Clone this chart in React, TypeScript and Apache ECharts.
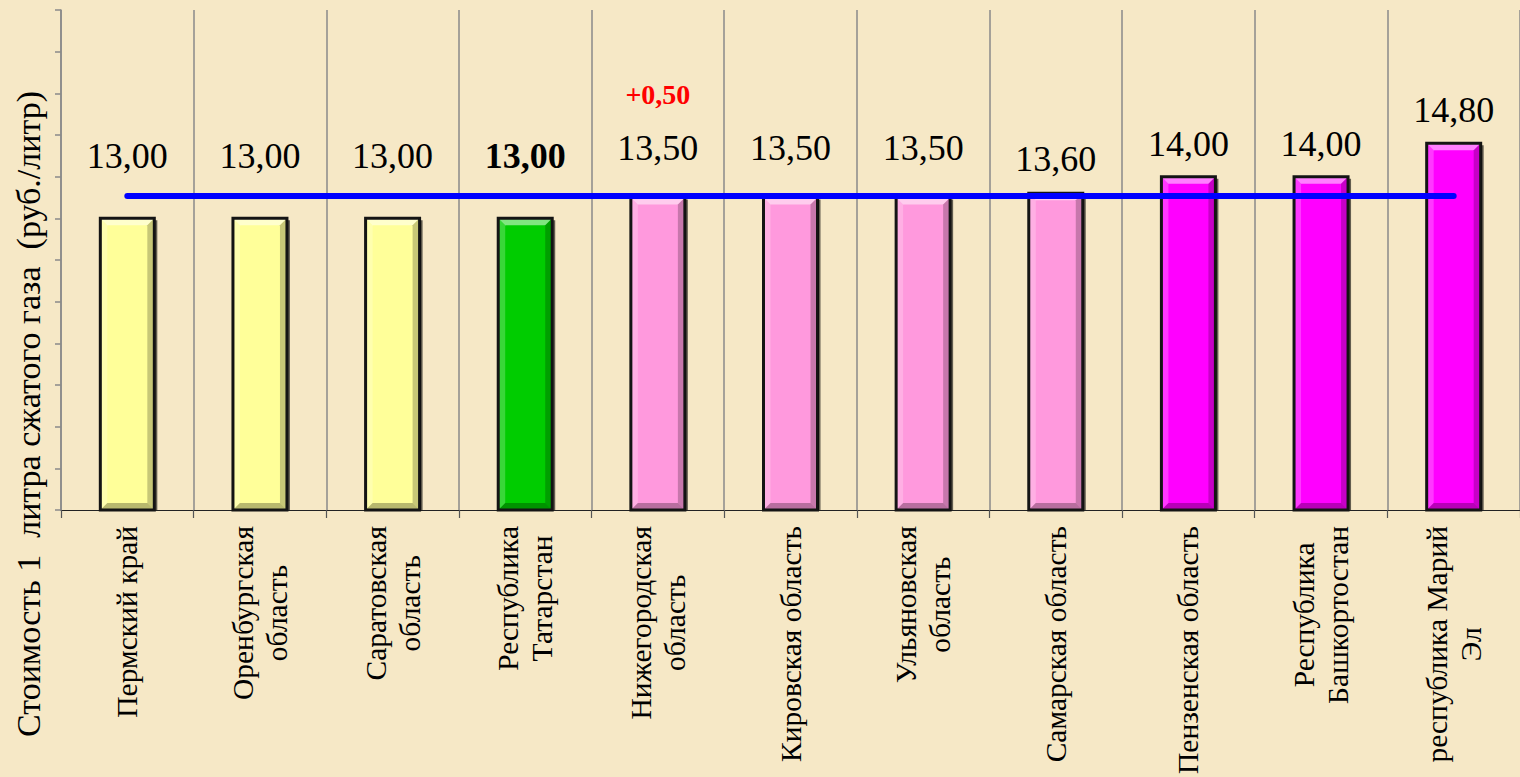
import React, { useEffect, useRef } from "react";
import * as echarts from "echarts";

const categories = [
  "Пермский край",
  "Оренбургская\nобласть",
  "Саратовская\nобласть",
  "Республика\nТатарстан",
  "Нижегородская\nобласть",
  "Кировская область",
  "Ульяновская\nобласть",
  "Самарская область",
  "Пензенская область",
  "Республика\nБашкортостан",
  "республика Марий\nЭл",
];
const prices = [13.0, 13.0, 13.0, 13.0, 13.5, 13.5, 13.5, 13.6, 14.0, 14.0, 14.8];
const priceChange = ["", "", "", "", "+0,50", "", "", "", "", "", ""];
const averagePrice = 13.55;
const highlightedIndex = 3;
const yMin = 6;
const yMax = 18;
const yInterval = 1;
const yAxisTitle = "Стоимость 1  литра сжатого газа  (руб./литр)";

// styles
const barColors = [
  "#FFFF99", "#FFFF99", "#FFFF99", "#00CC00",
  "#FF99DD", "#FF99DD", "#FF99DD", "#FF99DD",
  "#FF00FF", "#FF00FF", "#FF00FF",
];
const labelGaps = [42, 42, 42, 42, 29, 29, 29, 14, 13, 13, 13];
const SERIF = "Liberation Serif";
const BAR_W = 54;

const fmt = (v: number) => v.toFixed(2).replace(".", ",");

export default function App() {
  const ref = useRef<HTMLDivElement>(null);
  useEffect(() => {
    if (!ref.current) return;
    const chart = echarts.init(ref.current, undefined, { renderer: "svg" });

    const barData = prices.map((v, i) => ({
      value: v,
      itemStyle: { color: barColors[i] },
      label: { distance: labelGaps[i] },
    }));

    const option: any = {
      animation: false,
      backgroundColor: "#f6e8c6",
      textStyle: { fontFamily: SERIF },
      grid: { left: 61, top: 10, width: 1461, height: 501, containLabel: false },
      xAxis: {
        type: "category",
        data: categories,
        axisLine: { show: true, lineStyle: { color: "#222", width: 1.2 } },
        axisTick: { show: true, length: 8, lineStyle: { color: "#555", width: 1.2 } },
        splitLine: { show: true, lineStyle: { color: "#8a8a8a", width: 1.5 } },
        axisLabel: {
          interval: 0,
          rotate: 90,
          margin: 16,
          color: "#000",
          fontFamily: SERIF,
          fontSize: 29.5,
          formatter: (val: string) =>
            val
              .split("\n")
              .map((s) => "{c|" + s + "}")
              .join("\n"),
          rich: {
            c: { align: "center", fontFamily: SERIF, fontSize: 29.5, lineHeight: 34, color: "#000" },
          },
        },
      },
      yAxis: {
        type: "value",
        min: yMin,
        max: yMax,
        interval: yInterval,
        axisLine: { show: true, lineStyle: { color: "#8a8a8a", width: 1.5 } },
        axisTick: { show: true, length: 6, lineStyle: { color: "#8a8a8a", width: 1.5 } },
        axisLabel: { show: false },
        splitLine: { show: false },
      },
      graphic: [
        {
          type: "text",
          x: 28,
          y: 414,
          rotation: Math.PI / 2,
          style: {
            text: yAxisTitle,
            fontFamily: SERIF,
            fontSize: 34,
            fill: "#000",
            align: "center",
            verticalAlign: "middle",
          },
        },
      ],
      series: [
        {
          type: "bar",
          data: barData,
          barWidth: BAR_W,
          z: 2,
          silent: true,
          itemStyle: { borderWidth: 0 },
          label: {
            show: true,
            position: "top",
            fontFamily: SERIF,
            formatter: (p: any) => {
              const i = p.dataIndex;
              const main = (i === highlightedIndex ? "{vb|" : "{v|") + fmt(p.value) + "}";
              return priceChange[i] ? "{r|" + priceChange[i] + "}\n" + main : main;
            },
            rich: {
              v: { fontFamily: SERIF, fontSize: 36, lineHeight: 40, color: "#000" },
              vb: { fontFamily: SERIF, fontSize: 36, lineHeight: 40, color: "#000", fontWeight: "bold" },
              r: { fontFamily: SERIF, fontSize: 28, lineHeight: 68, color: "#ff0000", fontWeight: "bold" },
            },
          },
          markLine: {
            silent: true,
            symbol: "none",
            z: 5,
            label: { show: false },
            lineStyle: { color: "#0000ff", width: 6, type: "solid", cap: "round" },
            data: [
              [
                { coord: [categories[0], averagePrice] },
                { coord: [categories[categories.length - 1], averagePrice] },
              ],
            ],
          },
        },
        {
          type: "custom",
          z: 3,
          silent: true,
          data: prices.map((v, i) => [i, v]),
          renderItem: (params: any, api: any) => {
            const idx = api.value(0);
            const val = api.value(1);
            const top = api.coord([idx, val]);
            const bot = api.coord([idx, yMin]);
            const cx = top[0];
            const ty = top[1];
            const by = bot[1];
            const x0 = cx - BAR_W / 2;
            const x1 = cx + BAR_W / 2;
            const b = 7;
            return {
              type: "group",
              children: [
                {
                  type: "polygon",
                  shape: { points: [[x0, ty], [x1, ty], [x1 - b, ty + b], [x0 + b, ty + b]] },
                  style: { fill: "rgba(255,255,255,0.5)" },
                },
                {
                  type: "polygon",
                  shape: { points: [[x0, ty], [x0 + b, ty + b], [x0 + b, by - b], [x0, by]] },
                  style: { fill: "rgba(255,255,255,0.22)" },
                },
                {
                  type: "polygon",
                  shape: { points: [[x1, ty], [x1, by], [x1 - b, by - b], [x1 - b, ty + b]] },
                  style: { fill: "rgba(0,0,0,0.22)" },
                },
                {
                  type: "polygon",
                  shape: { points: [[x0, by], [x1, by], [x1 - b, by - b], [x0 + b, by - b]] },
                  style: { fill: "rgba(0,0,0,0.28)" },
                },
                {
                  type: "rect",
                  shape: { x: x0, y: ty, width: BAR_W, height: by - ty },
                  style: { fill: "none", stroke: "#141414", lineWidth: 3 },
                },
                {
                  type: "line",
                  shape: { x1: x1 + 2, y1: ty + 2, x2: x1 + 2, y2: by },
                  style: { stroke: "rgba(0,0,0,0.6)", lineWidth: 2 },
                },
              ],
            };
          },
        },
      ],
    };

    chart.setOption(option);
    return () => chart.dispose();
  }, []);

  return (
    <div
      ref={ref}
      style={{ position: "fixed", left: 0, top: 0, width: 1520, height: 777 }}
    />
  );
}
